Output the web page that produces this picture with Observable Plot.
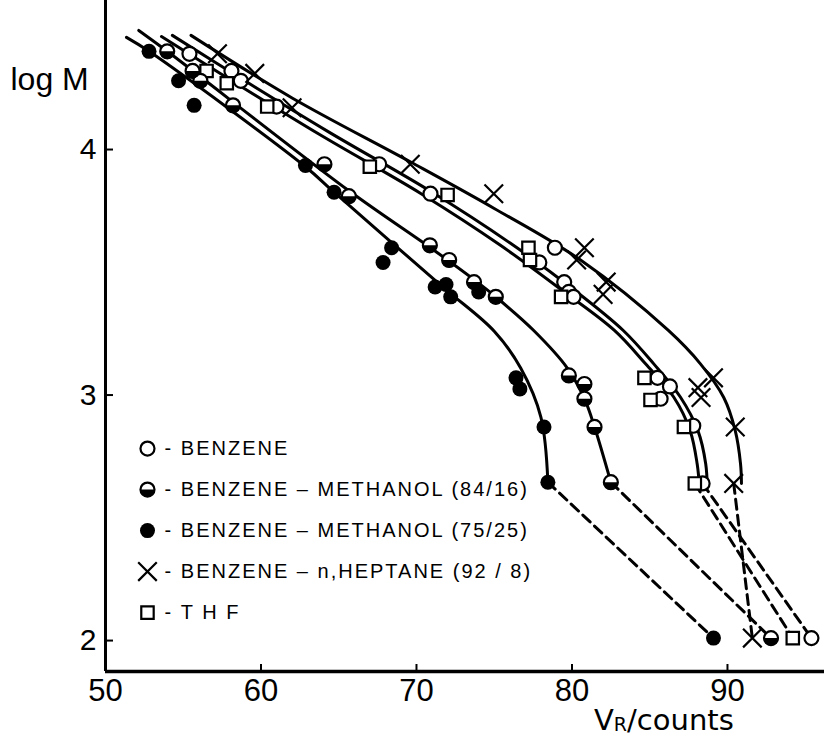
<!DOCTYPE html>
<html><head><meta charset="utf-8">
<script src="https://cdn.jsdelivr.net/npm/d3@7"></script>
<script src="https://cdn.jsdelivr.net/npm/@observablehq/plot@0.6"></script>
<style>body{margin:0;background:#fff} svg{display:block} .legend-text text{letter-spacing:2px}</style>
</head><body><div id="chart"></div>
<script>
// ---- tick labels ----
const xTicks = [50, 60, 70, 80, 90];
const yTicks = [2, 3, 4];

// ---- measured points (V_R counts, log M) ----
const benzeneV     = [55.4, 58.1, 58.7, 61.0, 67.6, 70.9, 78.9, 77.9, 79.5, 79.8, 80.1, 85.5, 86.3, 85.7, 87.8, 88.4, 95.4];
const benzeneLogM  = [4.39, 4.32, 4.28, 4.175, 3.94, 3.82, 3.60, 3.54, 3.46, 3.42, 3.40, 3.07, 3.035, 2.985, 2.875, 2.64, 2.01];

const thfV         = [56.5, 57.8, 60.4, 67.0, 72.0, 77.2, 77.3, 79.3, 84.66, 85.05, 87.2, 87.9, 94.2];
const thfLogM      = [4.32, 4.27, 4.175, 3.93, 3.815, 3.60, 3.55, 3.40, 3.07, 2.98, 2.87, 2.64, 2.01];

const bm84V        = [53.97, 55.6, 56.1, 58.2, 64.08, 65.65, 70.86, 72.1, 73.7, 75.1, 79.8, 80.8, 80.8, 81.45, 82.5, 92.8];
const bm84LogM     = [4.40, 4.32, 4.28, 4.18, 3.94, 3.81, 3.61, 3.55, 3.46, 3.40, 3.08, 3.045, 2.985, 2.87, 2.645, 2.01];

const bm75V        = [52.8, 54.7, 55.7, 62.86, 64.7, 68.4, 67.85, 71.2, 71.9, 72.2, 74.0, 76.4, 76.65, 78.2, 78.45, 89.1];
const bm75LogM     = [4.40, 4.28, 4.18, 3.935, 3.826, 3.60, 3.54, 3.44, 3.45, 3.40, 3.42, 3.07, 3.025, 2.87, 2.645, 2.01];

const heptV        = [57.2, 59.6, 62.0, 69.6, 74.97, 80.8, 80.3, 82.2, 82.0, 89.1, 88.1, 88.3, 90.5, 90.4, 91.6];
const heptLogM     = [4.39, 4.31, 4.17, 3.94, 3.82, 3.60, 3.55, 3.46, 3.41, 3.07, 3.03, 2.99, 2.87, 2.64, 2.01];

// ---- hand-drawn smooth curves ----
const benzeneCurveV    = [54.3, 58.7, 64.4, 70.9, 76.0, 80.1, 83.3, 85.26, 86.98, 88.1, 88.6, 88.7];
const benzeneCurveLogM = [4.465, 4.29, 4.07, 3.83, 3.62, 3.43, 3.263, 3.127, 2.991, 2.855, 2.72, 2.625];

const thfCurveV        = [53.6, 58.0, 63.8, 70.3, 75.4, 79.5, 82.73, 84.73, 86.55, 87.6, 88.05, 88.2];
const thfCurveLogM     = [4.46, 4.285, 4.06, 3.82, 3.61, 3.42, 3.263, 3.127, 2.991, 2.855, 2.72, 2.625];

const bm84CurveV       = [52.14, 53.97, 65.7, 70.9, 73.7, 75.1, 77.54, 79.7, 80.8, 81.45, 82.5];
const bm84CurveLogM    = [4.485, 4.40, 3.83, 3.60, 3.47, 3.40, 3.263, 3.11, 2.985, 2.87, 2.645];

const bm75CurveV       = [51.35, 52.8, 62.86, 64.7, 71.7, 75.0, 76.7, 78.0, 78.45];
const bm75CurveLogM    = [4.457, 4.40, 3.93, 3.826, 3.44, 3.26, 3.11, 2.91, 2.645];

const heptCurveV       = [55.5, 62.0, 69.6, 75.0, 80.55, 86.2, 88.26, 89.76, 90.5, 90.84, 90.9];
const heptCurveLogM    = [4.465, 4.21, 3.95, 3.76, 3.55, 3.263, 3.127, 2.99, 2.855, 2.72, 2.64];

// ---- legend ----
const legendKeys   = ["benzene", "bm84", "bm75", "hept", "thf"];
const legendLabels = ["-\u00a0BENZENE",
                      "-\u00a0BENZENE \u2013 METHANOL (84/16)",
                      "-\u00a0BENZENE \u2013 METHANOL (75/25)",
                      "-\u00a0BENZENE \u2013 n,HEPTANE (92 / 8)",
                      "-\u00a0T H F"];

// ---------------------------------------------------------------
const series = [
  {key: "benzene", v: benzeneV, m: benzeneLogM, cv: benzeneCurveV, cm: benzeneCurveLogM},
  {key: "thf",     v: thfV,     m: thfLogM,     cv: thfCurveV,     cm: thfCurveLogM},
  {key: "bm84",    v: bm84V,    m: bm84LogM,    cv: bm84CurveV,    cm: bm84CurveLogM},
  {key: "bm75",    v: bm75V,    m: bm75LogM,    cv: bm75CurveV,    cm: bm75CurveLogM},
  {key: "hept",    v: heptV,    m: heptLogM,    cv: heptCurveV,    cm: heptCurveLogM}
];
const pts = series.flatMap(s => s.v.map((v, i) => ({key: s.key, v, m: s.m[i]})));
const curves = series.flatMap(s => s.cv.map((v, i) => ({key: s.key, v, m: s.cm[i]})));
const dashed = series.flatMap(s => {
  const n = s.v.length;
  return [n - 2, n - 1].map(i => ({key: s.key, v: s.v[i], m: s.m[i]}));
});
const of = k => pts.filter(d => d.key === k);

const xMin = 50, xMax = 96.24, yMin = 1.874, yMax = 4.607;
const legendV = 52.7, legendTextV = 53.8;
const legendRows = legendKeys.map((k, i) => ({key: k, label: legendLabels[i], v: legendV, tv: legendTextV, m: 2.782 - i * 0.167}));
const lg = k => legendRows.filter(d => d.key === k);

const halfDisk = {
  draw(context, size) {
    const r = Math.sqrt(size / Math.PI);
    context.moveTo(r, 0);
    context.arc(0, 0, r, 0, Math.PI);
    context.closePath();
  }
};

function markers(rowsFor, xk) {
  return [
    Plot.dot(rowsFor("benzene"), {x: xk, y: "m", r: 7, fill: "white", stroke: "black", strokeWidth: 2.2}),
    Plot.dot(rowsFor("thf"), {x: xk, y: "m", r: 7, symbol: "square", fill: "white", stroke: "black", strokeWidth: 2.2}),
    Plot.dot(rowsFor("bm84"), {x: xk, y: "m", r: 7, fill: "white", stroke: "black", strokeWidth: 2.2}),
    Plot.dot(rowsFor("bm84"), {x: xk, y: "m", r: 7.5, symbol: halfDisk, fill: "black"}),
    Plot.dot(rowsFor("bm75"), {x: xk, y: "m", r: 7.5, fill: "black"}),
    Plot.dot(rowsFor("hept"), {x: xk, y: "m", r: 8.5, symbol: "times", stroke: "black", strokeWidth: 2.2})
  ];
}

const chart = Plot.plot({
  width: 824,
  height: 736,
  marginLeft: 105,
  marginRight: 0,
  marginTop: 0,
  marginBottom: 65,
  style: {fontFamily: "Liberation Sans, Arial, sans-serif", background: "white", color: "black"},
  x: {domain: [xMin, xMax]},
  y: {domain: [yMin, yMax]},
  marks: [
    Plot.axisX(xTicks, {tickSize: 0, tickPadding: 7, fontSize: 31, label: null, tickFormat: d3.format("d")}),
    Plot.axisY(yTicks, {tickSize: 0, tickPadding: 9, fontSize: 30, label: null, tickFormat: d3.format("d")}),
    Plot.ruleX(xTicks.filter(d => d > xMin), {x: d => d, insetTop: 664, strokeWidth: 2}),
    Plot.ruleY(yTicks, {y: d => d, insetRight: 711, strokeWidth: 2}),
    Plot.ruleX([xMin], {strokeWidth: 3}),
    Plot.ruleY([yMin], {strokeWidth: 3.5}),
    Plot.line(curves, {x: "v", y: "m", z: "key", curve: "catmull-rom", stroke: "black", strokeWidth: 3}),
    Plot.line(dashed, {x: "v", y: "m", z: "key", stroke: "black", strokeWidth: 3, strokeDasharray: "10,6"}),
    ...markers(of, "v"),
    ...markers(lg, "v"),
    Plot.text(legendRows, {x: "tv", y: "m", text: "label", textAnchor: "start", fontSize: 20, fill: "black", className: "legend-text"}),
    Plot.text(["log M"], {frameAnchor: "top-left", dx: -95, dy: 67, textAnchor: "start", fontSize: 32, fill: "black"})
  ]
});

const svg = d3.select(chart);
const xl = svg.append("text")
  .attr("x", 594).attr("y", 730)
  .attr("text-anchor", "start")
  .attr("font-family", "DejaVu Sans, sans-serif")
  .attr("fill", "black");
xl.append("tspan").attr("font-size", 29).text("V");
xl.append("tspan").attr("font-size", 19).attr("dy", 1).text("R");
xl.append("tspan").attr("font-size", 29).attr("dy", -1).text("/counts");

document.getElementById("chart").appendChild(chart);
</script>
</body></html>
